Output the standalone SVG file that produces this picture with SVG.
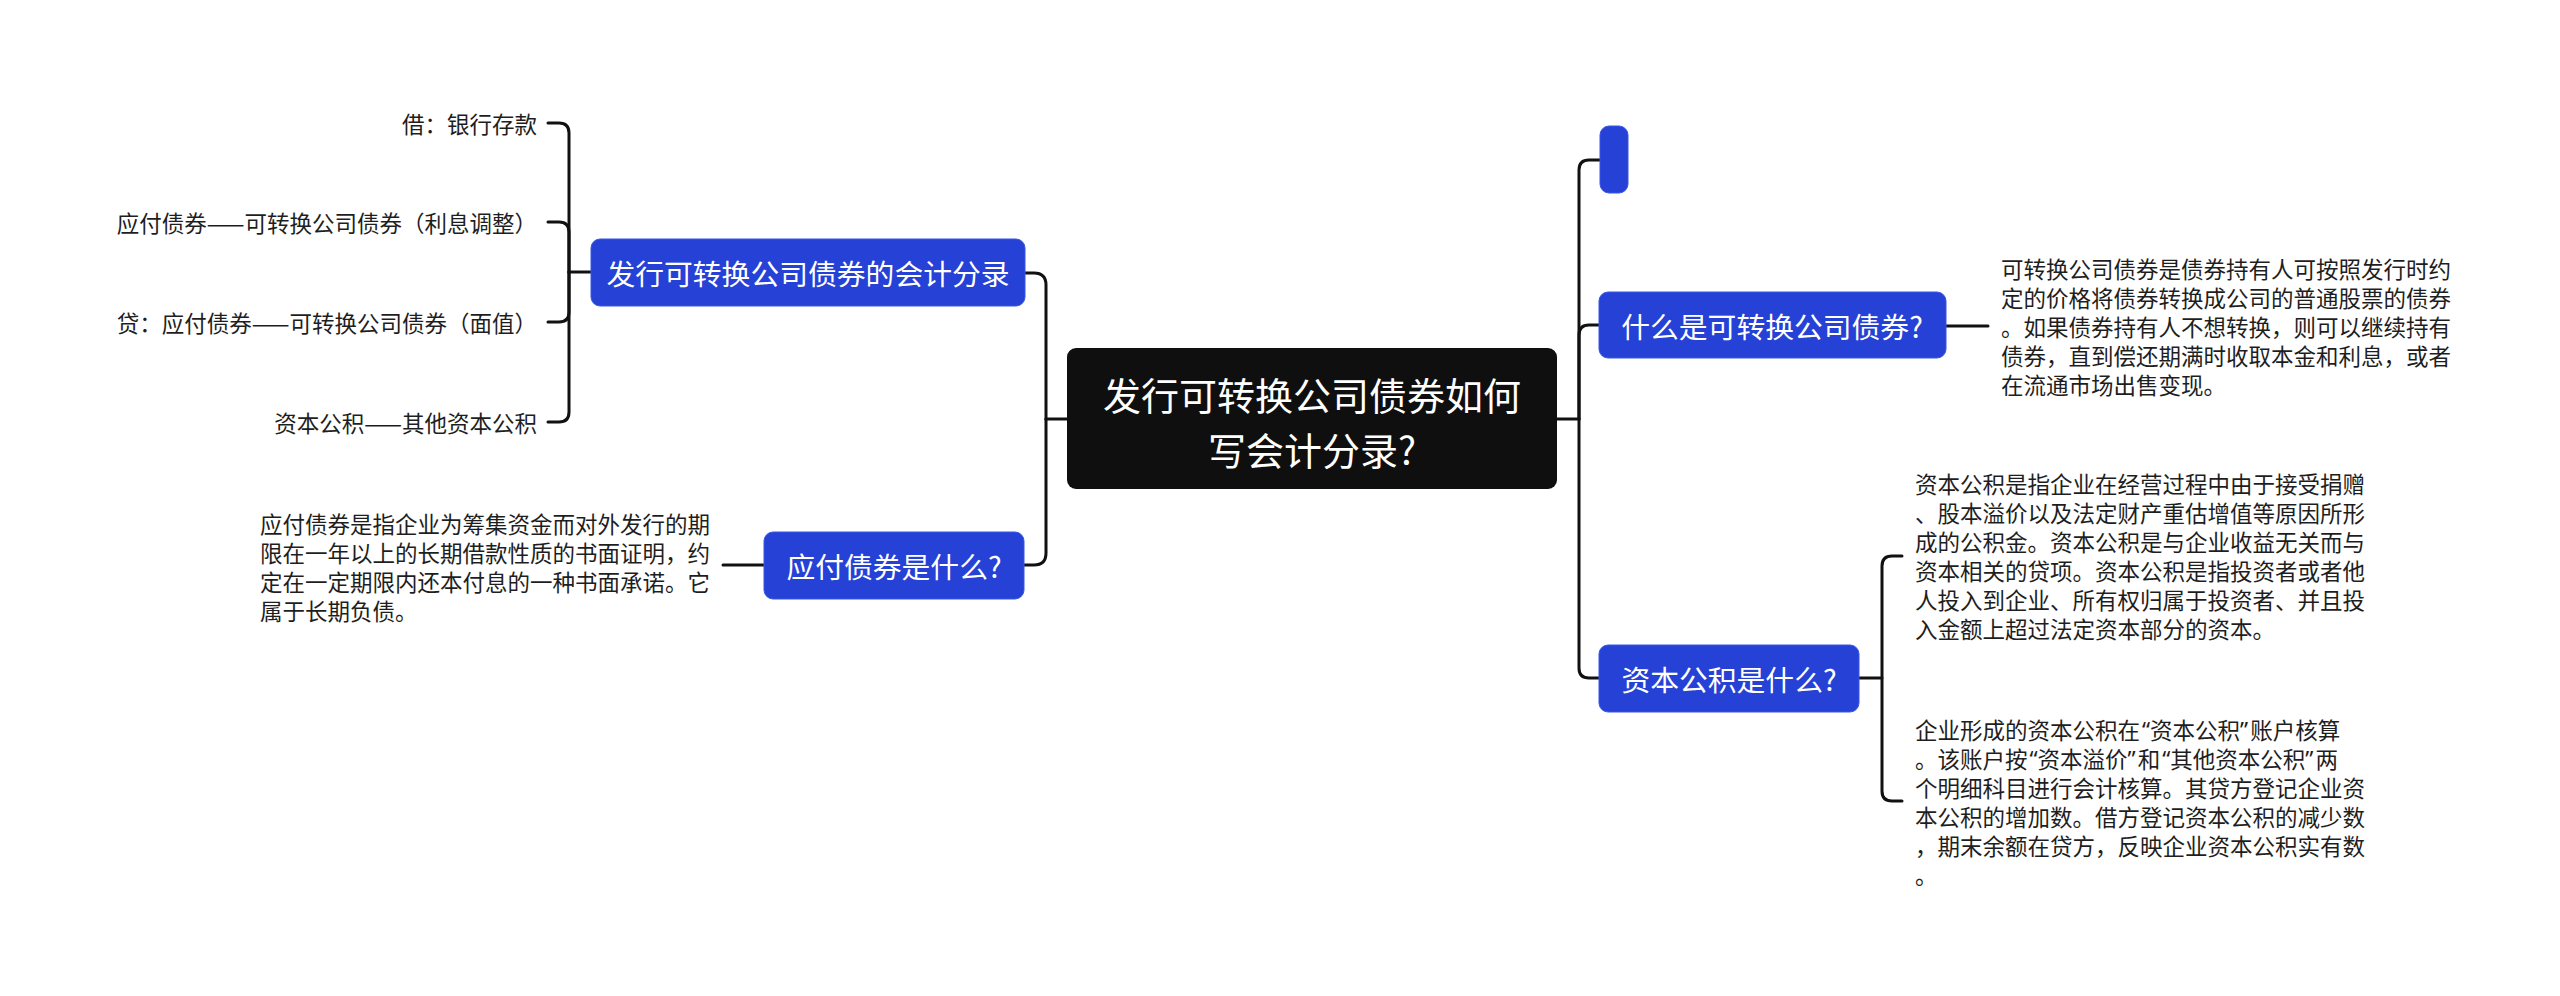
<svg xmlns="http://www.w3.org/2000/svg" width="2560" height="996" viewBox="0 0 2560 996">
<style>
.bg{fill:#ffffff}
.conn path{fill:none;stroke:#111;stroke-width:3;stroke-linecap:round}
.root rect{fill:#0f0f0f}
.branch rect{fill:#2541d6;stroke:#3a57e6;stroke-width:1}
.t{font-family:"Noto Sans CJK SC","Noto Sans",sans-serif;dominant-baseline:central}
.rt{font-size:38px;fill:#fff;text-anchor:middle}
.bt{font-size:28.8px;fill:#fff;text-anchor:middle}
.lt{font-size:22.5px;fill:#1e1e1e}
.end{text-anchor:end}
.q{font-family:"Noto Sans",sans-serif}
</style>
<rect class="bg" x="0" y="0" width="2560" height="996"/>
<g class="conn" id="connectors">
<path d="M1067,419 H1046"/>
<path d="M1046,419 V285 Q1046,273 1034,273 H1025"/>
<path d="M1046,419 V553 Q1046,565 1034,565 H1024"/>
<path d="M1557,419 H1579"/>
<path d="M1579,419 V170 Q1579,160 1589,160 H1600"/>
<path d="M1579,419 V335 Q1579,325 1589,325 H1599"/>
<path d="M1579,419 V668 Q1579,678 1589,678 H1599"/>
<path d="M591,272 H569"/>
<path d="M569,272 V133 Q569,123 559,123 H548"/>
<path d="M569,272 V232 Q569,222 559,222 H548"/>
<path d="M569,272 V312 Q569,322 559,322 H548"/>
<path d="M569,272 V412 Q569,422 559,422 H548"/>
<path d="M764,565 H723"/>
<path d="M1946,326 H1988"/>
<path d="M1859,678 H1882"/>
<path d="M1902,556 H1892 Q1882,556 1882,566 V791 Q1882,801 1892,801 H1902"/>
</g>
<g id="root" class="root">
<rect x="1067" y="348" width="490" height="141" rx="9"/>
<text class="t rt" x="1312" y="393">发行可转换公司债券如何</text>
<text class="t rt" x="1312" y="448">写会计分录?</text>
</g>
<g id="n-entries" class="branch">
<rect x="591" y="239" width="434" height="67" rx="9"/>
<text class="t bt" x="808" y="272">发行可转换公司债券的会计分录</text>
</g>
<g id="n-bonds" class="branch">
<rect x="764" y="532" width="260" height="67" rx="9"/>
<text class="t bt" x="894" y="565">应付债券是什么?</text>
</g>
<g id="n-empty" class="branch">
<rect x="1600" y="126" width="28" height="67" rx="9"/>
</g>
<g id="n-convertible" class="branch">
<rect x="1599" y="292" width="347" height="66" rx="9"/>
<text class="t bt" x="1772" y="325">什么是可转换公司债券?</text>
</g>
<g id="n-capital" class="branch">
<rect x="1599" y="645" width="260" height="67" rx="9"/>
<text class="t bt" x="1729" y="678">资本公积是什么?</text>
</g>
<g id="leaf-1"><text class="t lt end" x="537" y="123">借：银行存款</text></g>
<g id="leaf-2"><text class="t lt end" x="537" y="222">应付债券——可转换公司债券（利息调整）</text></g>
<g id="leaf-3"><text class="t lt end" x="537" y="322">贷：应付债券——可转换公司债券（面值）</text></g>
<g id="leaf-4"><text class="t lt end" x="537" y="422">资本公积——其他资本公积</text></g>
<g id="leaf-bonds">
<text class="t lt" x="260" y="523">应付债券是指企业为筹集资金而对外发行的期</text>
<text class="t lt" x="260" y="552">限在一年以上的长期借款性质的书面证明，约</text>
<text class="t lt" x="260" y="581">定在一定期限内还本付息的一种书面承诺。它</text>
<text class="t lt" x="260" y="610">属于长期负债。</text>
</g>
<g id="leaf-convertible">
<text class="t lt" x="2001" y="268">可转换公司债券是债券持有人可按照发行时约</text>
<text class="t lt" x="2001" y="297">定的价格将债券转换成公司的普通股票的债券</text>
<text class="t lt" x="2001" y="326">。如果债券持有人不想转换，则可以继续持有</text>
<text class="t lt" x="2001" y="355">债券，直到偿还期满时收取本金和利息，或者</text>
<text class="t lt" x="2001" y="384">在流通市场出售变现。</text>
</g>
<g id="leaf-capital-1">
<text class="t lt" x="1915" y="483">资本公积是指企业在经营过程中由于接受捐赠</text>
<text class="t lt" x="1915" y="512">、股本溢价以及法定财产重估增值等原因所形</text>
<text class="t lt" x="1915" y="541">成的公积金。资本公积是与企业收益无关而与</text>
<text class="t lt" x="1915" y="570">资本相关的贷项。资本公积是指投资者或者他</text>
<text class="t lt" x="1915" y="599">人投入到企业、所有权归属于投资者、并且投</text>
<text class="t lt" x="1915" y="628">入金额上超过法定资本部分的资本。</text>
</g>
<g id="leaf-capital-2">
<text class="t lt" x="1915" y="729">企业形成的资本公积在<tspan class="q" dx="2">“</tspan>资本公积<tspan class="q">”</tspan><tspan dx="2">账户核算</tspan></text>
<text class="t lt" x="1915" y="758">。该账户按<tspan class="q" dx="2">“</tspan>资本溢价<tspan class="q">”</tspan><tspan dx="2">和</tspan><tspan class="q" dx="2">“</tspan>其他资本公积<tspan class="q">”</tspan><tspan dx="2">两</tspan></text>
<text class="t lt" x="1915" y="787">个明细科目进行会计核算。其贷方登记企业资</text>
<text class="t lt" x="1915" y="816">本公积的增加数。借方登记资本公积的减少数</text>
<text class="t lt" x="1915" y="845">，期末余额在贷方，反映企业资本公积实有数</text>
<text class="t lt" x="1915" y="874">。</text>
</g>
</svg>
